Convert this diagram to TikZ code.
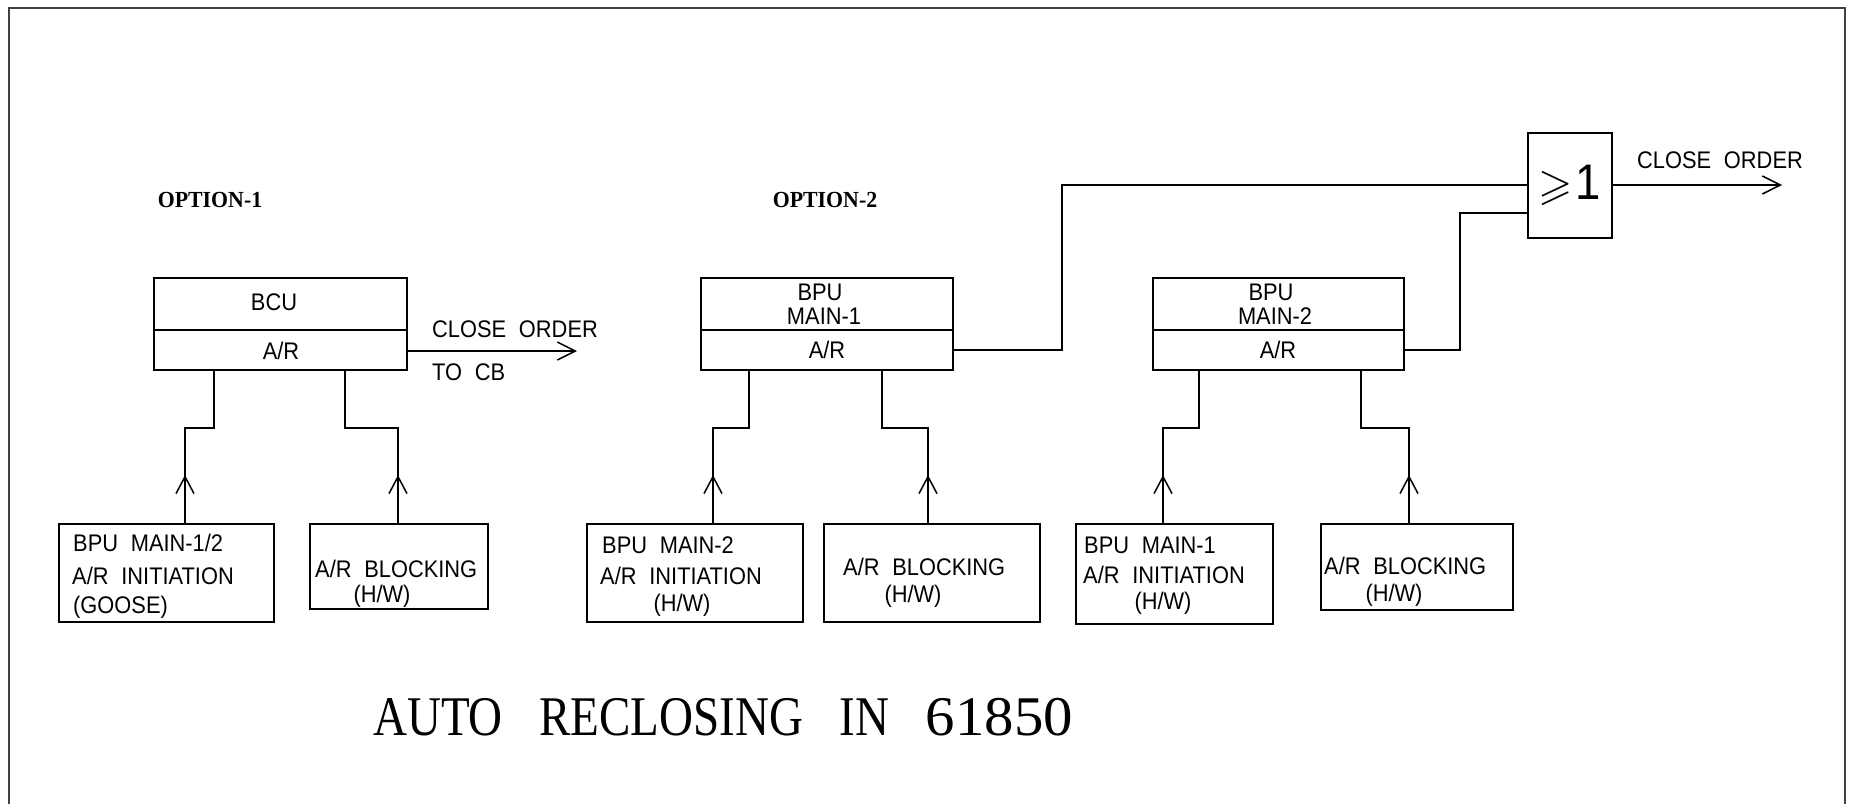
\documentclass[tikz,border=0pt]{standalone}
\usepackage{fontspec}
\usepackage{amssymb}
\usetikzlibrary{arrows.meta,decorations.markings}
\newfontfamily\cadfont[FakeStretch=0.91,WordSpace=2.1]{Liberation Sans}
\newfontfamily\optfont[FakeStretch=0.95]{Liberation Serif}
\newfontfamily\ttlfont[FakeStretch=0.84,WordSpace=3.1]{Liberation Serif}
\newfontfamily\ttldigits[FakeStretch=1.05]{Liberation Serif}
\begin{document}
\begin{tikzpicture}[x=1pt,y=-1pt,
  wire/.style={line width=1.5pt},
  box/.style={draw, line width=1.5pt, inner sep=0pt, anchor=north west},
  txt/.style={font=\cadfont\fontsize{24}{29}\selectfont, inner sep=0pt},
  opt/.style={font=\optfont\bfseries\fontsize{23}{23}\selectfont, inner sep=0pt},
  tipR/.style={-{Straight Barb[length=18pt,width=18pt]}},
  midtip/.style={postaction={decorate}, decoration={markings,
     mark=at position 48pt with {\arrow{Straight Barb[length=17pt,width=18pt]}}}}
]
\useasboundingbox (0,0) rectangle (1850,804);
% frame
\draw[line width=2.5pt, black!75] (9,804) -- (9,8) -- (1845,8) -- (1845,804);

% ---------- OPTION 1 ----------
\node[opt] (opt1) at (210,200) {OPTION-1};
\node[box, minimum width=253pt, minimum height=52pt] (bcu) at (153,277) {};
\node[box, minimum width=253pt, minimum height=40pt] (bcuar) at (153,329) {};
\node[txt, anchor=base] (bcut) at (274,310) {BCU};
\node[txt, anchor=base] (bcuart) at (281,359) {A/R};
\coordinate (co1) at (577,351);
\draw[wire, tipR] (bcuar.east |- co1) -- (co1);
\node[txt, anchor=base west] (co1t) at (432,337) {CLOSE ORDER};
\node[txt, anchor=base west] (tocb) at (432,380) {TO CB};

\node[box, minimum width=215pt, minimum height=98pt] (in1) at (58,523) {};
\node[txt, anchor=base west] (in1a) at (73,551) {BPU MAIN-1/2};
\node[txt, anchor=base west] (in1b) at (72,584) {A/R INITIATION};
\node[txt, anchor=base west] (in1c) at (73,613) {(GOOSE)};

\node[box, minimum width=178pt, minimum height=85pt] (blk1) at (309,523) {};
\node[txt, anchor=base west] (blk1a) at (315,577) {A/R BLOCKING};
\node[txt, anchor=base] (blk1b) at (382,602) {(H/W)};

\coordinate (a1) at (185,428); \coordinate (a2) at (214,428);
\draw[wire, midtip] (in1.north -| a1) -- (a1) -- (a2) -- (a2 |- bcuar.south);
\coordinate (b1) at (398,428); \coordinate (b2) at (345,428);
\draw[wire, midtip] (blk1.north -| b1) -- (b1) -- (b2) -- (b2 |- bcuar.south);

% ---------- OPTION 2 ----------
\node[opt] (opt2) at (825,200) {OPTION-2};

% Main-1
\node[box, minimum width=252pt, minimum height=52pt] (m1) at (700,277) {};
\node[box, minimum width=252pt, minimum height=40pt] (m1ar) at (700,329) {};
\node[txt, anchor=base] (m1t1) at (820,300) {BPU};
\node[txt, anchor=base] (m1t2) at (824,324) {MAIN-1};
\node[txt, anchor=base] (m1t3) at (827,358) {A/R};

\node[box, minimum width=216pt, minimum height=98pt] (in2) at (586,523) {};
\node[txt, anchor=base west] (in2a) at (602,553) {BPU MAIN-2};
\node[txt, anchor=base west] (in2b) at (600,584) {A/R INITIATION};
\node[txt, anchor=base] (in2c) at (682,611) {(H/W)};

\node[box, minimum width=216pt, minimum height=98pt] (blk2) at (823,523) {};
\node[txt, anchor=base west] (blk2a) at (843,575) {A/R BLOCKING};
\node[txt, anchor=base] (blk2b) at (913,602) {(H/W)};

\coordinate (c1) at (713,428); \coordinate (c2) at (749,428);
\draw[wire, midtip] (in2.north -| c1) -- (c1) -- (c2) -- (c2 |- m1ar.south);
\coordinate (d1) at (928,428); \coordinate (d2) at (882,428);
\draw[wire, midtip] (blk2.north -| d1) -- (d1) -- (d2) -- (d2 |- m1ar.south);

% Main-2
\node[box, minimum width=251pt, minimum height=52pt] (m2) at (1152,277) {};
\node[box, minimum width=251pt, minimum height=40pt] (m2ar) at (1152,329) {};
\node[txt, anchor=base] (m2t1) at (1271,300) {BPU};
\node[txt, anchor=base] (m2t2) at (1275,324) {MAIN-2};
\node[txt, anchor=base] (m2t3) at (1278,358) {A/R};

\node[box, minimum width=197pt, minimum height=100pt] (in3) at (1075,523) {};
\node[txt, anchor=base west] (in3a) at (1084,553) {BPU MAIN-1};
\node[txt, anchor=base west] (in3b) at (1083,583) {A/R INITIATION};
\node[txt, anchor=base] (in3c) at (1163,609) {(H/W)};

\node[box, minimum width=192pt, minimum height=86pt] (blk3) at (1320,523) {};
\node[txt, anchor=base west] (blk3a) at (1324,574) {A/R BLOCKING};
\node[txt, anchor=base] (blk3b) at (1394,601) {(H/W)};

\coordinate (e1) at (1163,428); \coordinate (e2) at (1199,428);
\draw[wire, midtip] (in3.north -| e1) -- (e1) -- (e2) -- (e2 |- m2ar.south);
\coordinate (f1) at (1409,428); \coordinate (f2) at (1361,428);
\draw[wire, midtip] (blk3.north -| f1) -- (f1) -- (f2) -- (f2 |- m2ar.south);

% OR gate
\node[box, minimum width=84pt, minimum height=105pt] (orgate) at (1527,132)
  {\fontsize{44}{44}\selectfont$\geqslant$\hspace{3pt}{\cadfont\fontsize{50}{50}\selectfont 1}};
\coordinate (g1) at (1062,185);
\draw[wire] (m1ar.east) -| (g1) -- (g1 -| orgate.west);
\coordinate (g2) at (1460,213);
\draw[wire] (m2ar.east) -| (g2) -- (g2 -| orgate.west);
\coordinate (co2) at (1782,185);
\draw[wire, tipR] (orgate.east |- co2) -- (co2);
\node[txt, anchor=base west] (co2t) at (1637,168) {CLOSE ORDER};

% title
\node[font=\ttlfont\fontsize{56}{56}\selectfont, inner sep=0pt, anchor=base] (title) at (723,735) {AUTO RECLOSING IN {\ttldigits 61850}};
\end{tikzpicture}
\end{document}
